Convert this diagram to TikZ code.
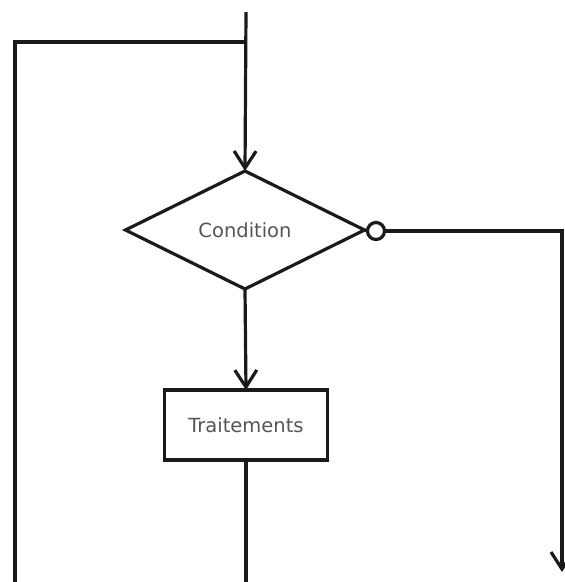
\documentclass[tikz,border=0pt]{standalone}
\usepackage{fontspec}
\setmainfont{DejaVu Sans}
\usetikzlibrary{shapes.geometric,arrows.meta}
\definecolor{txt}{HTML}{555555}
\definecolor{ln}{HTML}{1A1A1A}
\begin{document}
\begin{tikzpicture}[x=1pt,y=-1pt,
  line width=3.2pt, draw=ln,
  conn/.style={draw=ln, line width=3.2pt},
  arr/.style={conn, -{Straight Barb[length=17pt,width=22pt,line width=3.2pt]}},
  label/.style={text=txt, font=\fontsize{19.5}{23}\selectfont},
  decision/.style={diamond, draw=ln, line width=3.2pt, inner sep=0pt, outer sep=0pt,
    minimum width=239pt, minimum height=118pt, label},
  process/.style={rectangle, draw=ln, line width=3.2pt, inner sep=0pt, outer sep=0pt,
    minimum width=163pt, minimum height=70pt, label},
  ring/.style={circle, draw=ln, line width=3.2pt, fill=white, inner sep=0pt, outer sep=0pt, minimum size=17pt}]
\useasboundingbox (0,0) rectangle (565,582);
\node[decision] (cond) at (245,230) {Condition};
\node[ring] (no) at (376,231) {};
\node[process] (proc) at (246,425) {Traitements};
\coordinate (top) at (246,12);
\coordinate (join) at (246,42);
\coordinate (lt) at (15,42);
\coordinate (lb) at (15,584);
\coordinate (pb) at (246,584);
\coordinate (rt) at (562,231);
\coordinate (rb) at (562,572);
\draw[arr] (top) -- (cond.north);
\draw[conn] (lb) -- (lt) -- (join);
\draw[arr] (cond.south) -- (proc.north);
\draw[conn] (proc.south) -- (pb);
\draw[conn] (cond.east) -- (no.west);
\draw[arr] (no.east) -- (rt) -- (rb);
\end{tikzpicture}
\end{document}
